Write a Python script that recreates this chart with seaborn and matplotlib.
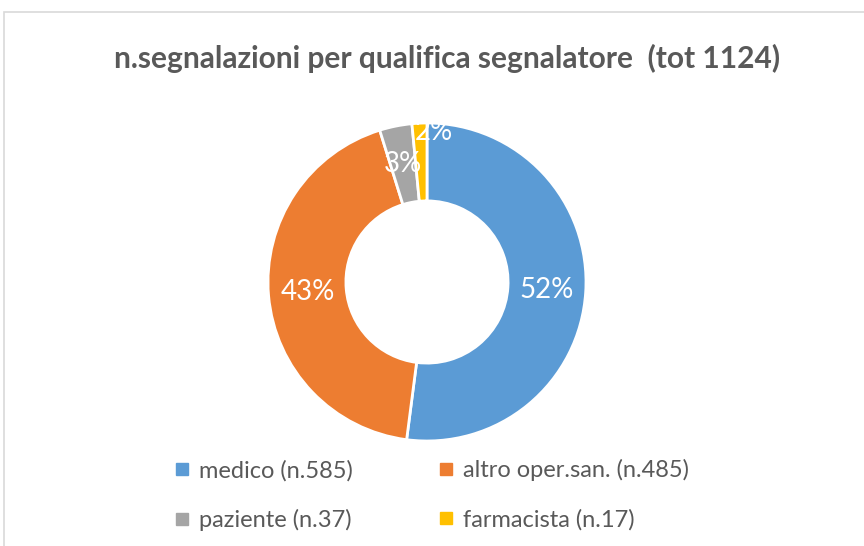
import numpy as np
import seaborn as sns
import matplotlib
matplotlib.use("Agg")
import matplotlib.pyplot as plt
from matplotlib.lines import Line2D
from matplotlib.patches import Rectangle

### data
categories = ['medico', 'altro oper.san.', 'paziente', 'farmacista']
counts = [585, 485, 37, 17]
colors = ['#5B9BD5', '#ED7D31', '#A5A5A5', '#FFC000']
title = 'n.segnalazioni per qualifica segnalatore  (tot 1124)'

sns.set_theme(style='white')
plt.rcParams['font.family'] = ['Lato', 'DejaVu Sans']

W, H = 864, 546
fig = plt.figure(figsize=(W / 100, H / 100), dpi=100)

### chart area border (cut off on right/bottom like the screenshot)
fig.patches.append(Rectangle((4 / W, -0.1), 1.2, 1 - 12 / H + 0.1, transform=fig.transFigure,
                             fill=False, edgecolor='#D9D9D9', linewidth=1.2))

### donut axes: centre (427, 282) px, radius 159 px
cx, cy, r = 427, 282, 159
ax = fig.add_axes([(cx - r) / W, (H - cy - r) / H, 2 * r / W, 2 * r / H])
wedges, _ = ax.pie(counts, colors=colors, startangle=90, counterclock=False,
                   wedgeprops=dict(width=0.49, edgecolor='white', linewidth=2))
ax.set_xlim(-1, 1)
ax.set_ylim(-1, 1)
ax.set_aspect('equal')
ax.axis('off')

### percent labels
total = sum(counts)
label_r = [0.755, 0.755, 0.755, 0.945]
label_dx = [0, 0, 0, 0.09]
cum = 0
for i, c in enumerate(counts):
    mid = (cum + c / 2) / total
    cum += c
    ang = np.deg2rad(90 - 360 * mid)
    x = label_r[i] * np.cos(ang) + label_dx[i]
    y = label_r[i] * np.sin(ang)
    ax.text(x, y, f'{100 * c / total:.0f}%', ha='center', va='center',
            color='white', fontsize=20, clip_on=False)

fig.text(447 / W, 1 - 58 / H, title, ha='center', va='center',
         fontsize=21.5, fontweight='bold', color='#595959')

### legend, row-major order
labels = [f'{n} (n.{c})' for n, c in zip(categories, counts)]
handles = [Line2D([], [], marker='s', linestyle='none', markersize=8,
                  markerfacecolor=col, markeredgecolor=col) for col in colors]
order = [0, 2, 1, 3]
leg = fig.legend([handles[i] for i in order], [labels[i] for i in order],
                 ncol=2, loc='center', bbox_to_anchor=(432 / W, 1 - 495 / H),
                 frameon=False, fontsize=17, handlelength=0.6, handletextpad=0.42,
                 columnspacing=3.65, labelspacing=1.16, borderpad=0)
for t in leg.get_texts():
    t.set_color('#595959')

fig.savefig('out.png', dpi=100, facecolor='white')
